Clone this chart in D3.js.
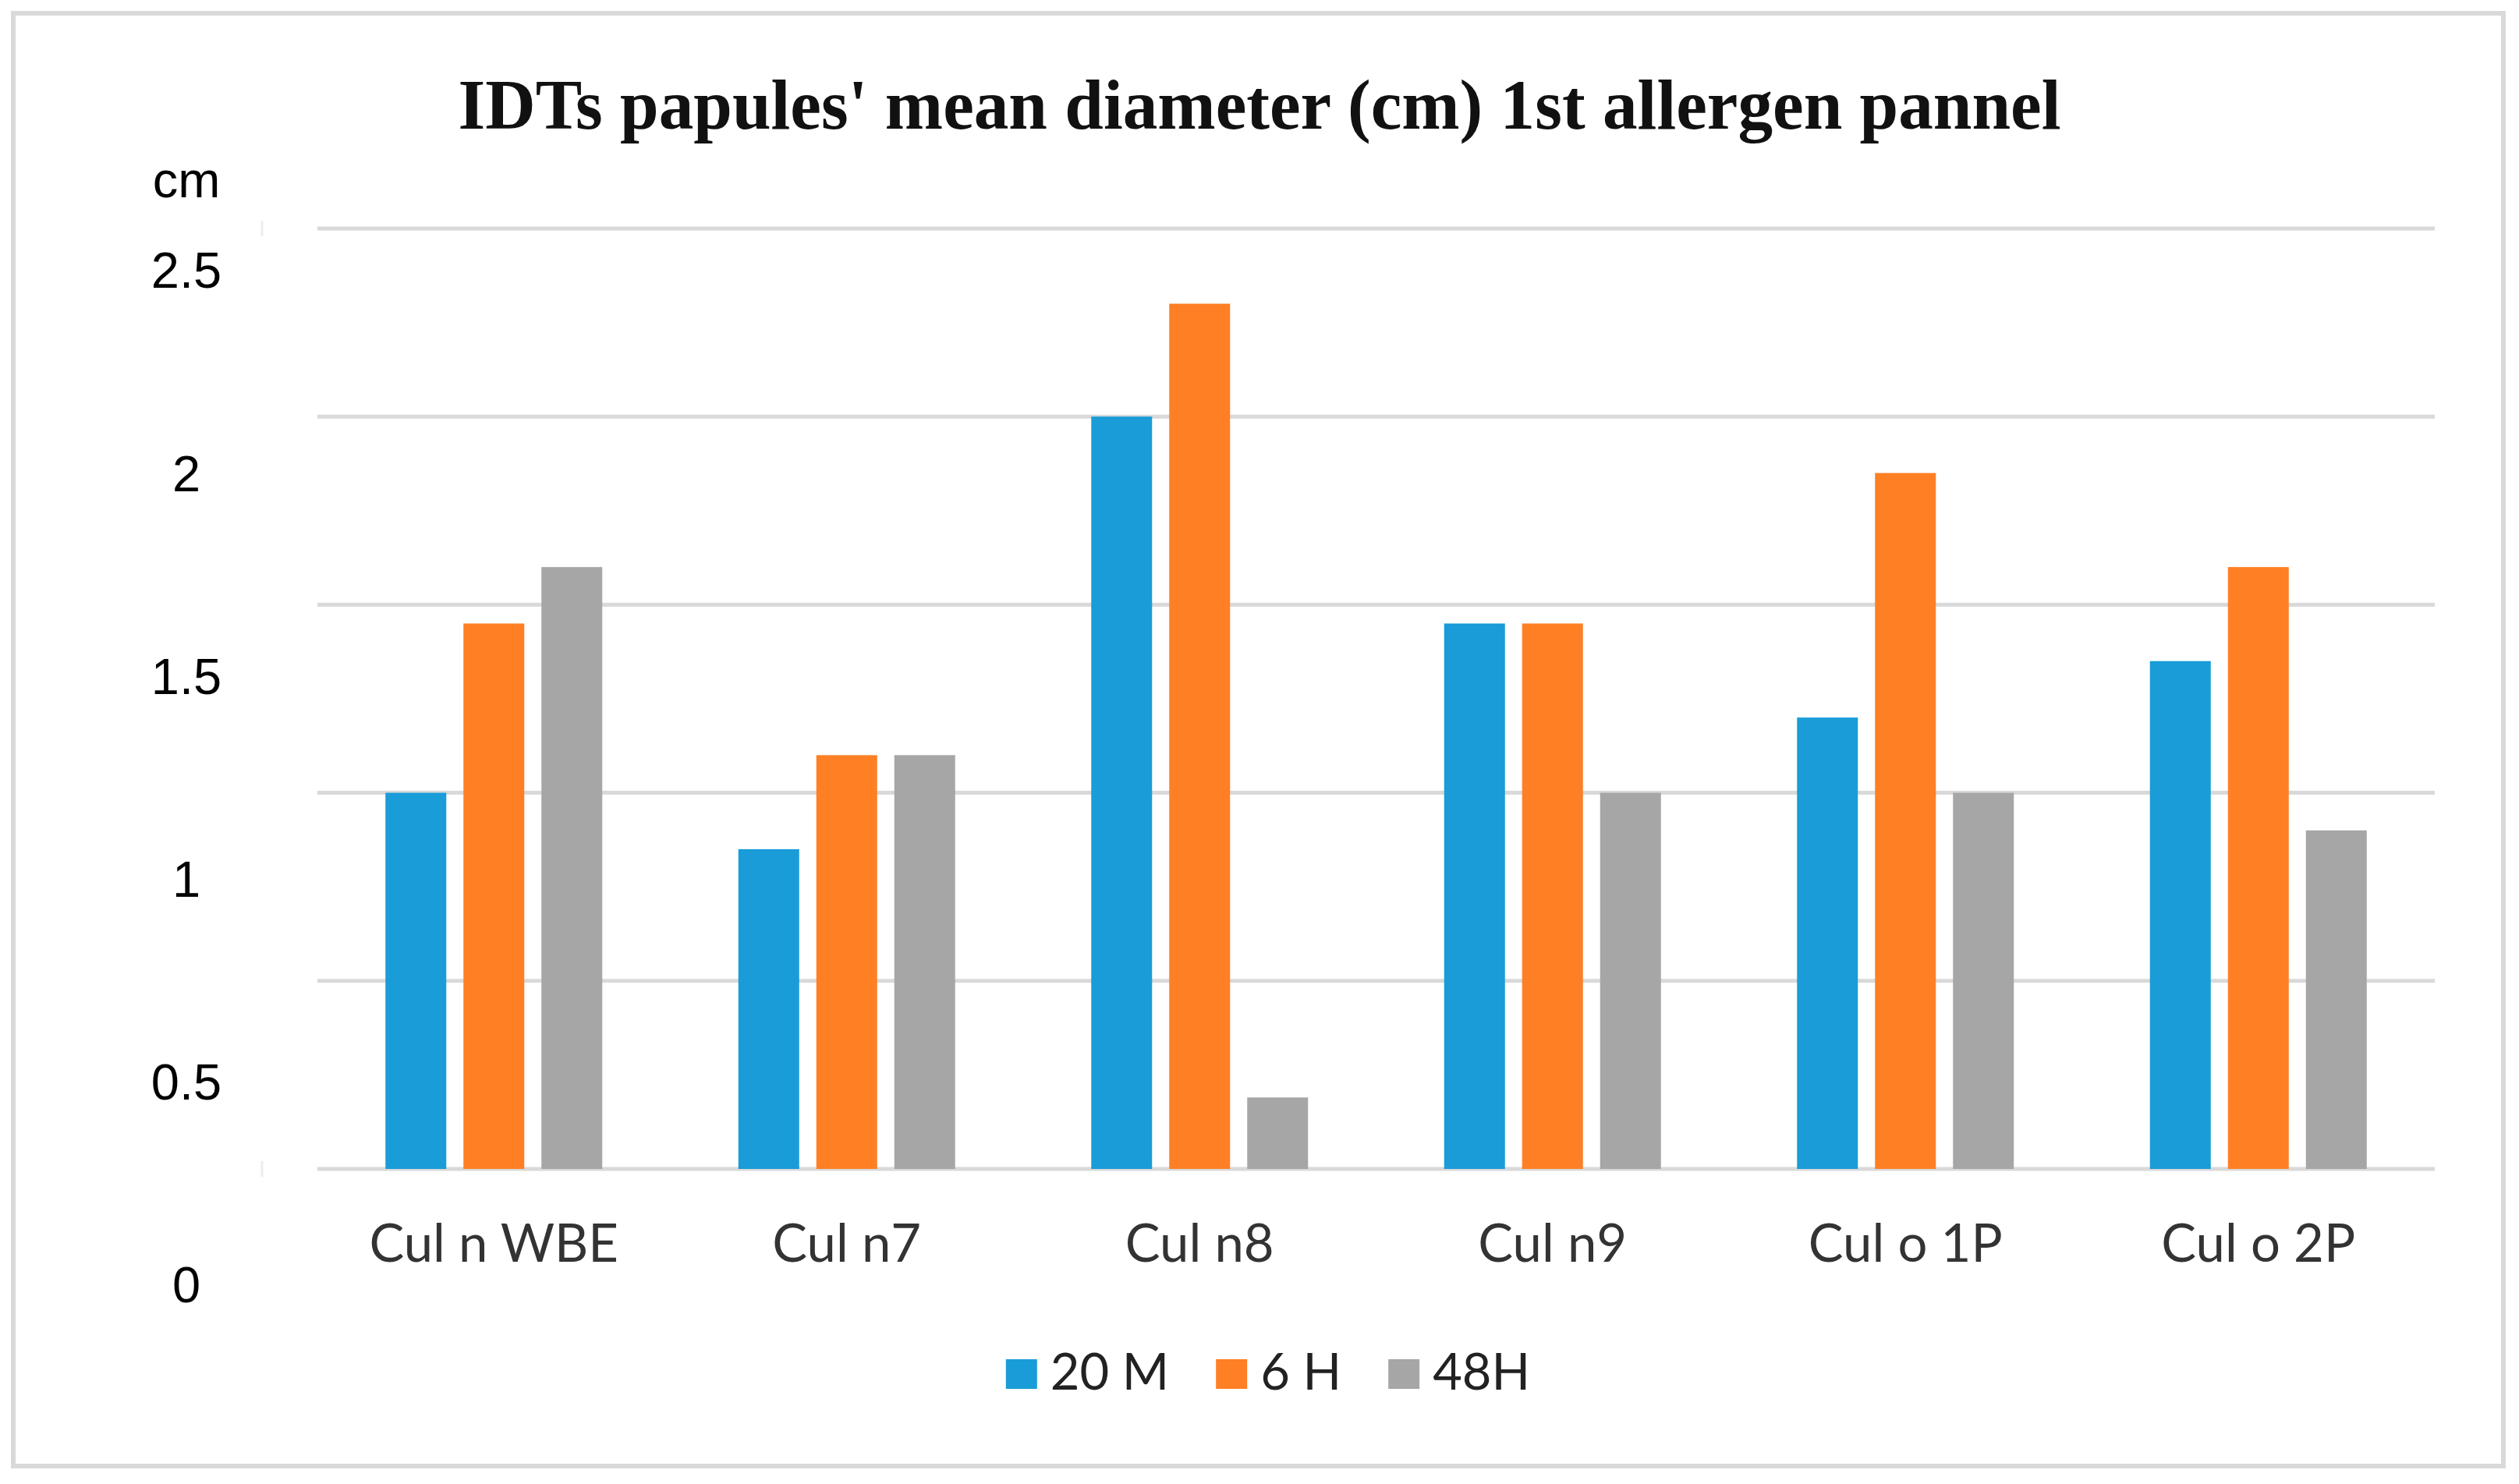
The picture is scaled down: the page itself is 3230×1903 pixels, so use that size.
<!DOCTYPE html>
<html>
<head>
<meta charset="utf-8">
<script src="https://cdn.jsdelivr.net/npm/d3@7"></script>
<style>
  body { margin: 0; background: #fff; }
  svg { display: block; }
</style>
</head>
<body>
<div id="chart"></div>
<script>
// chart data
const categories = ["Cul n WBE", "Cul n7", "Cul n8", "Cul n9", "Cul o 1P", "Cul o 2P"];
const seriesNames = ["20 M", "6 H", "48H"];
const min20 = [1.0, 0.85, 2.0, 1.45, 1.2, 1.35];
const hours6 = [1.45, 1.1, 2.3, 1.45, 1.85, 1.6];
const hours48 = [1.6, 1.1, 0.19, 1.0, 1.0, 0.9];
const yTicks = [0, 0.5, 1, 1.5, 2, 2.5];
const colors = ["#199cd8", "#fe7f24", "#a6a6a6"];

const width = 3230, height = 1903;

const svg = d3.select("#chart")
    .append("svg")
    .attr("width", width)
    .attr("height", height);

// outer frame
svg.append("rect")
    .attr("x", 17).attr("y", 17)
    .attr("width", 3193).attr("height", 1863)
    .attr("fill", "#fff")
    .attr("stroke", "#d9d9d9")
    .attr("stroke-width", 6);

// title
svg.append("text")
    .attr("x", 1615).attr("y", 165)
    .attr("text-anchor", "middle")
    .attr("textLength", 2055)
    .attr("lengthAdjust", "spacingAndGlyphs")
    .style("font-family", "'Liberation Serif', 'DejaVu Serif', serif")
    .style("font-weight", "bold")
    .style("font-size", "92px")
    .attr("fill", "#111")
    .text("IDTs papules' mean diameter (cm) 1st allergen pannel");

// scales
const plotLeft = 407, plotRight = 3122;
const y = d3.scaleLinear().domain([0, 2.5]).range([1499, 293]);
// the tick labels sit on their own (slightly offset) spacing in the original
const yLabels = d3.scaleLinear().domain([0, 2.5]).range([1649, 348]);

const x0 = d3.scaleBand().domain(categories).range([plotLeft, plotRight]).padding(0);
const x1 = d3.scaleBand().domain(seriesNames).range([0, x0.bandwidth()])
    .paddingInner(0.22).paddingOuter(0.8725);

const color = d3.scaleOrdinal().domain(seriesNames).range(colors);

// gridlines
svg.append("g")
    .attr("class", "grid")
    .selectAll("line")
    .data(yTicks)
    .enter()
    .append("line")
    .attr("x1", plotLeft).attr("x2", plotRight)
    .attr("y1", d => y(d)).attr("y2", d => y(d))
    .attr("stroke", "#d9d9d9")
    .attr("stroke-width", 5);

// faint leftover tick marks of the value axis
svg.append("g")
    .selectAll("line")
    .data([2.5, 0])
    .enter()
    .append("line")
    .attr("x1", 336).attr("x2", 336)
    .attr("y1", d => y(d) - 10).attr("y2", d => y(d) + 10)
    .attr("stroke", "#ececec")
    .attr("stroke-width", 3);

// value axis labels
const yAxis = svg.append("g")
    .attr("transform", "translate(239,0)")
    .call(d3.axisLeft(yLabels).tickValues(yTicks).tickSize(0).tickPadding(0).tickFormat(d3.format("~g")));
yAxis.select(".domain").remove();
yAxis.selectAll("text")
    .attr("text-anchor", "middle")
    .attr("fill", "#000")
    .style("font-family", "'Liberation Sans', Arial, sans-serif")
    .style("font-size", "65px");

svg.append("text")
    .attr("x", 239).attr("y", 253)
    .attr("text-anchor", "middle")
    .style("font-family", "'Liberation Sans', Arial, sans-serif")
    .style("font-size", "65px")
    .attr("fill", "#000")
    .text("cm");

// bars
const table = categories.map((c, i) => ({
    category: c,
    values: [min20[i], hours6[i], hours48[i]].map((v, j) => ({ key: seriesNames[j], value: v }))
}));

svg.append("g")
    .selectAll("g")
    .data(table)
    .enter()
    .append("g")
    .attr("transform", d => `translate(${x0(d.category)},0)`)
    .selectAll("rect")
    .data(d => d.values)
    .enter()
    .append("rect")
    .attr("x", d => x1(d.key))
    .attr("width", x1.bandwidth())
    .attr("y", d => y(d.value))
    .attr("height", d => y(0) - y(d.value))
    .attr("fill", d => color(d.key));

// category labels
svg.append("g")
    .selectAll("text")
    .data(categories)
    .enter()
    .append("text")
    .attr("x", d => x0(d) + x0.bandwidth() / 2)
    .attr("y", 1618)
    .attr("text-anchor", "middle")
    .style("font-family", "Lato, 'Open Sans', sans-serif")
    .style("font-size", "67px")
    .attr("fill", "#333")
    .text(d => d);

// legend
const legend = svg.append("g");
const items = legend.selectAll("g")
    .data(seriesNames)
    .enter()
    .append("g");
items.append("rect")
    .attr("width", 40).attr("height", 38)
    .attr("y", -39)
    .attr("fill", d => color(d));
items.append("text")
    .attr("x", 57).attr("y", 0)
    .style("font-family", "Lato, 'Open Sans', sans-serif")
    .style("font-size", "65px")
    .attr("fill", "#222")
    .text(d => d);

let cursor = 0;
items.each(function() {
    const g = d3.select(this);
    g.attr("transform", `translate(${cursor},0)`);
    cursor += 57 + g.select("text").node().getComputedTextLength() + 60;
});
const legendWidth = cursor - 60;
legend.attr("transform", `translate(${1626 - legendWidth / 2},1782)`);
</script>
</body>
</html>
